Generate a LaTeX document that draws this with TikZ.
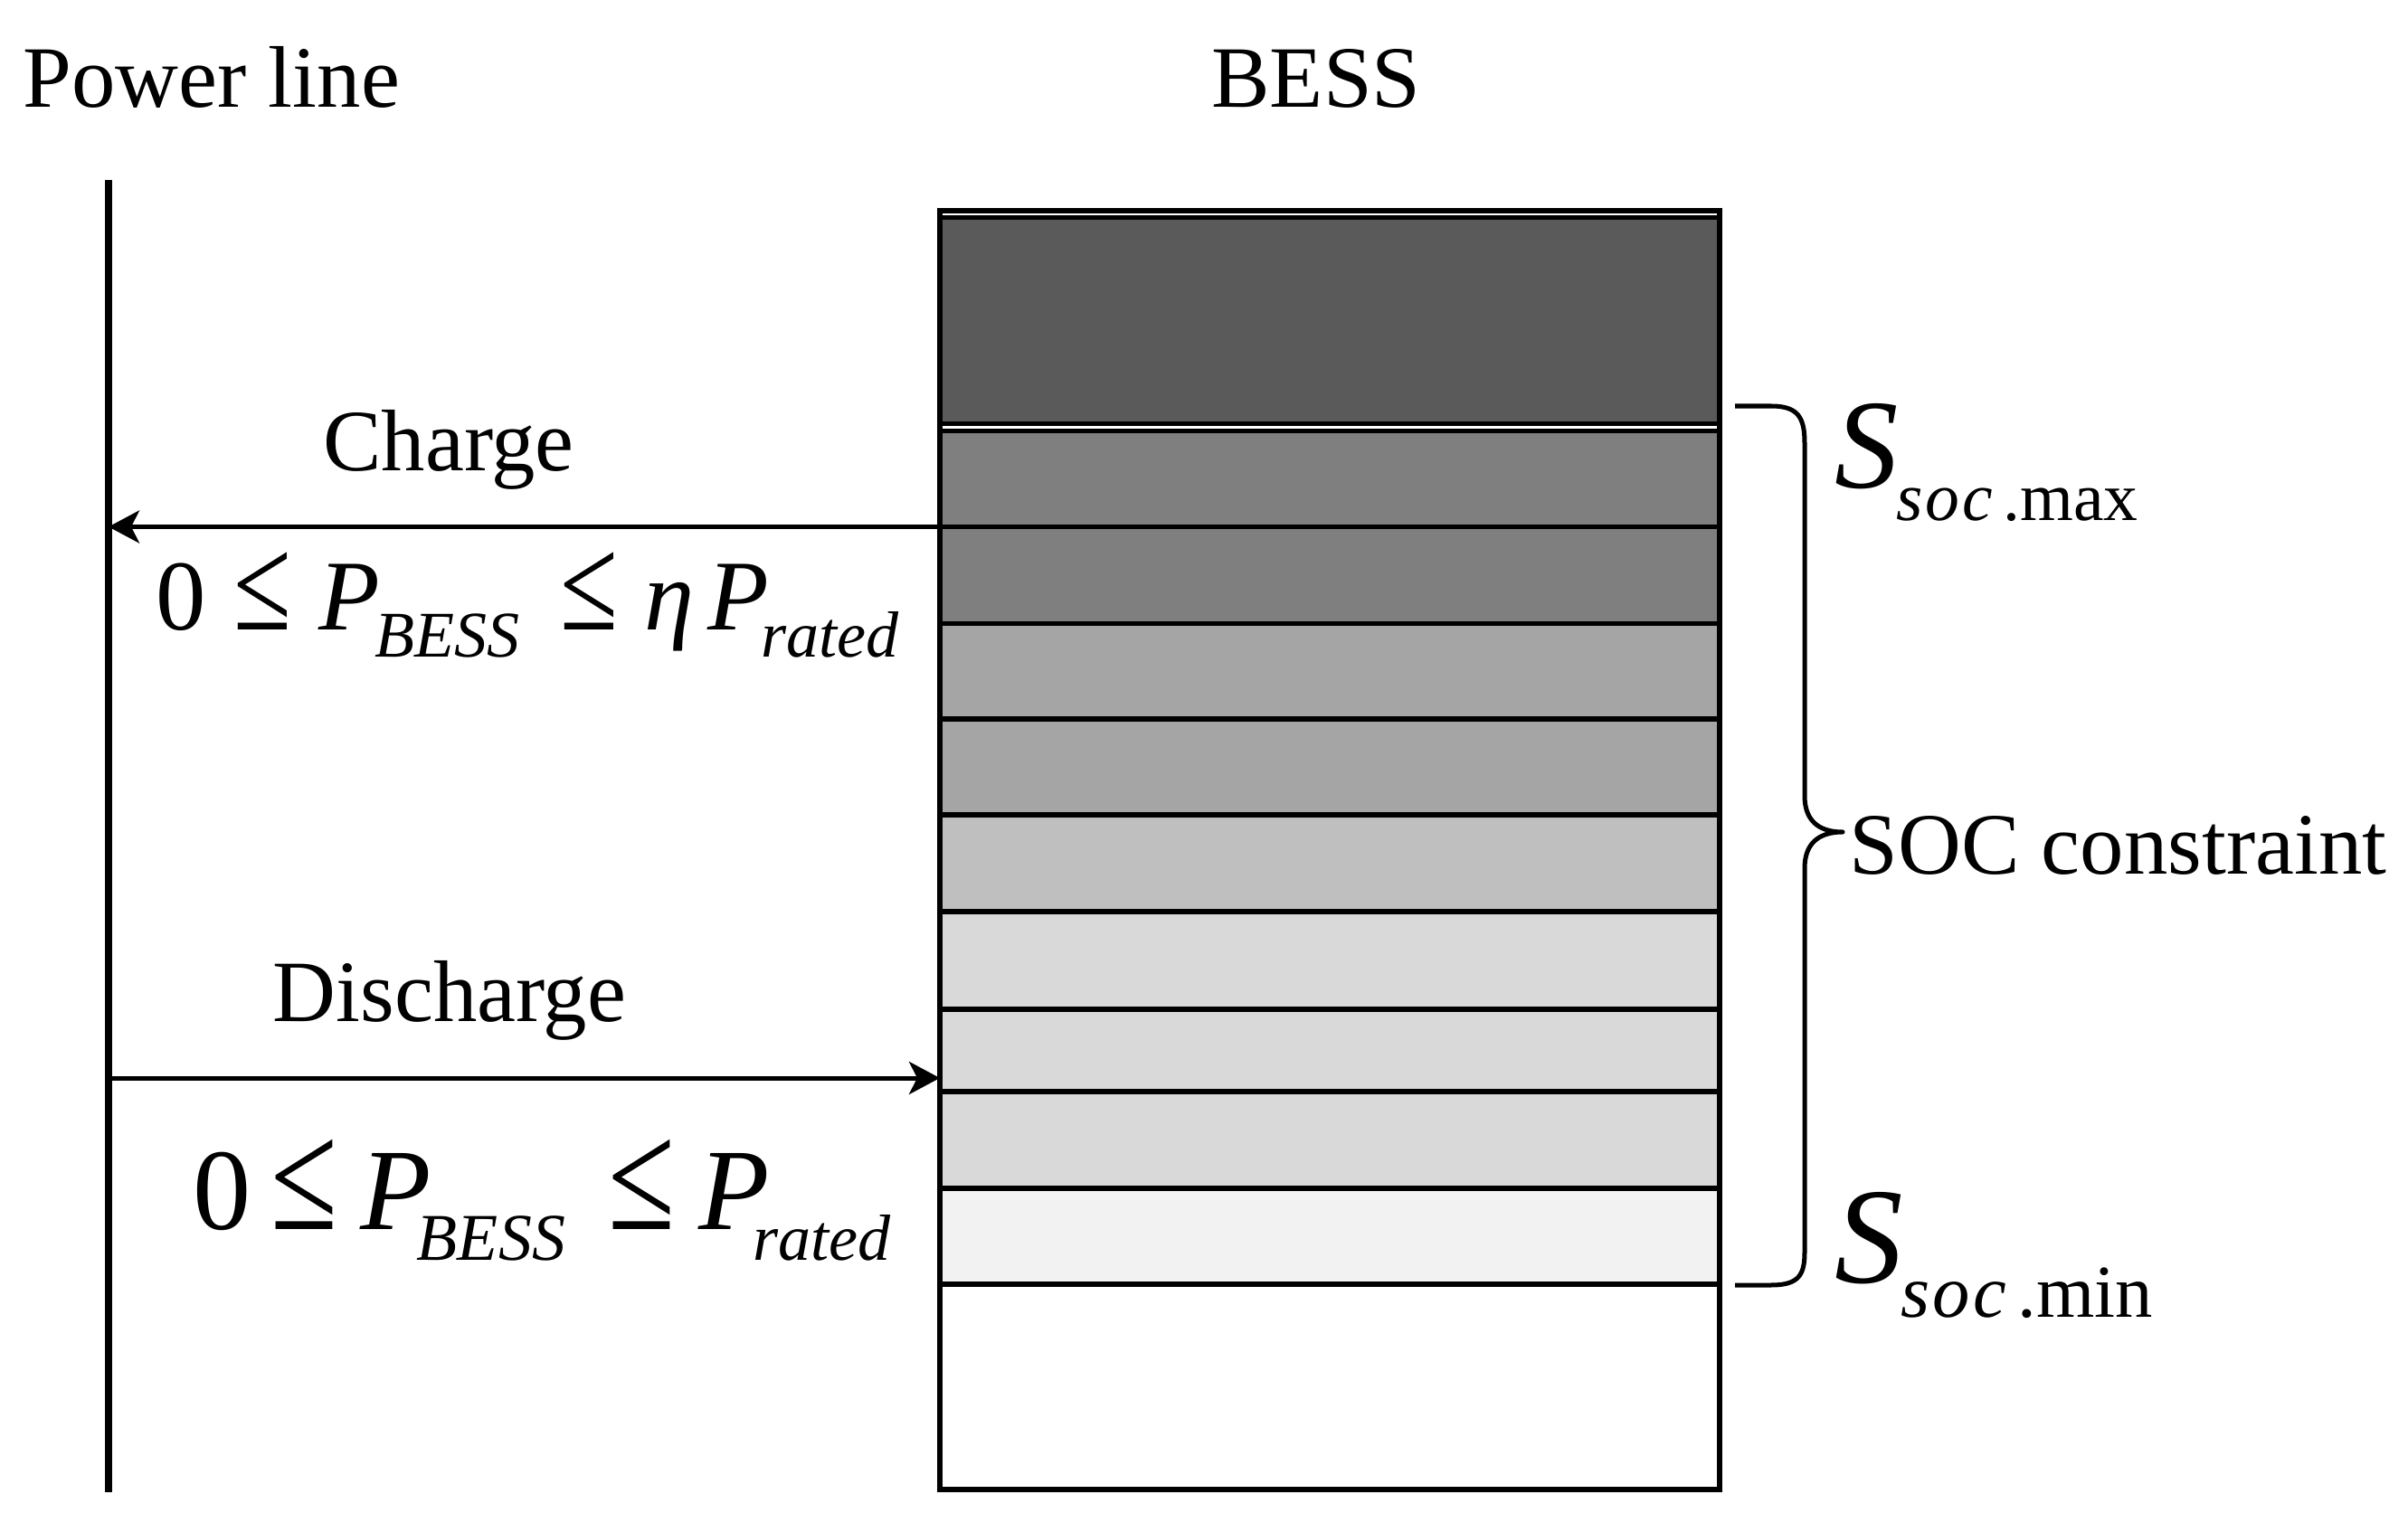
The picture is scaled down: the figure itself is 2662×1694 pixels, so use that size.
\documentclass[tikz,border=0pt]{standalone}
\usepackage{fontspec}
\usepackage{graphicx}
\setmainfont{Liberation Serif}
\usetikzlibrary{arrows.meta}
\definecolor{cA}{HTML}{5A5A5A}
\definecolor{cB}{HTML}{7F7F7F}
\definecolor{cC}{HTML}{A5A5A5}
\definecolor{cD}{HTML}{BFBFBF}
\definecolor{cE}{HTML}{D9D9D9}
\definecolor{cF}{HTML}{F2F2F2}
\newcommand{\gbox}[2]{\makebox[#1][l]{#2}}
\newcommand{\leqbig}{\scalebox{1.05}[1.35]{≤}}
\begin{document}
\begin{tikzpicture}[x=0.01cm,y=-0.01cm,
  lbl/.style={inner sep=0pt, font=\fontsize{27.5}{33}\selectfont},
  cellbox/.style={draw=black, line width=0.055cm},
  flow/.style={line width=0.05cm, -{Stealth[length=0.34cm,width=0.36cm,inset=0.09cm]}},
  bracepath/.style={line width=0.05cm, line join=round}]
\useasboundingbox (0,0) rectangle (2662,1694);
% titles
\node[lbl, anchor=base west] (tpl) at (25,119) {Power line};
\node[lbl, anchor=base] (tbess) at (1455,119) {BESS};
% power line
\coordinate (plt) at (120,199);
\coordinate (plb) at (120,1650);
\draw[line width=0.072cm] (plt) -- (plb);
% battery
\draw[cellbox, fill=white] (1039,233) rectangle (1901,1647);
\draw[cellbox, fill=cA] (1039,240.5) rectangle (1901,468.5);
\draw[cellbox, fill=cB] (1039,476.5) rectangle (1901,582.5);
\draw[cellbox, fill=cB] (1039,582.5) rectangle (1901,689.5);
\draw[cellbox, fill=cC] (1039,689.5) rectangle (1901,795);
\draw[cellbox, fill=cC] (1039,795) rectangle (1901,901);
\draw[cellbox, fill=cD] (1039,901) rectangle (1901,1008);
\draw[cellbox, fill=cE] (1039,1008) rectangle (1901,1116);
\draw[cellbox, fill=cE] (1039,1116) rectangle (1901,1207);
\draw[cellbox, fill=cE] (1039,1207) rectangle (1901,1314);
\draw[cellbox, fill=cF] (1039,1314) rectangle (1901,1420);
% arrows
\coordinate (chB) at (1039,582.5);
\coordinate (chP) at (120,582.5);
\coordinate (dcP) at (120,1192);
\coordinate (dcB) at (1039,1192);
\draw[flow] (chB) -- (chP);
\draw[flow] (dcP) -- (dcB);
% labels
\node[lbl, anchor=base] (tch) at (496,521) {Charge};
\node[lbl, anchor=base] (tdc) at (497,1129) {Discharge};
\node[inner sep=0pt, anchor=base west, font=\fontsize{31.5}{36}\selectfont] (fch) at (172,696)
 {\gbox{8.6mm}{0}\gbox{9.4mm}{\leqbig}\gbox{6.2mm}{\textit{P}}\gbox{20.5mm}{\raisebox{-8.8pt}{\fontsize{20.5}{21}\selectfont\textit{BESS}}}\gbox{9.2mm}{\leqbig}\gbox{7.0mm}{\textit{η}}\gbox{5.9mm}{\textit{P}}\raisebox{-8.8pt}{\fontsize{20.5}{21}\selectfont\textit{rated}}};
\node[inner sep=0pt, anchor=base west, font=\fontsize{36.5}{42}\selectfont] (fdc) at (213,1359)
 {\gbox{8.6mm}{0}\gbox{9.9mm}{\leqbig}\gbox{6.2mm}{\textit{P}}\gbox{21.2mm}{\raisebox{-9.7pt}{\fontsize{21}{22}\selectfont\textit{BESS}}}\gbox{9.9mm}{\leqbig}\gbox{6.0mm}{\textit{P}}\raisebox{-9.7pt}{\fontsize{20.5}{22}\selectfont\textit{rated}}};
% brace
\coordinate (brT) at (1918,449);
\coordinate (brB) at (1918,1421);
\coordinate (brTip) at (2037,920);
\draw[bracepath] (brT) -- (1958,449) .. controls (1988,449) and (1995,462) .. (1995,490)
  -- (1995,880) .. controls (1995,905) and (2008,920) .. (brTip)
  .. controls (2008,920) and (1995,935) .. (1995,960)
  -- (1995,1385) .. controls (1995,1410) and (1988,1421) .. (1958,1421) -- (brB);
\node[lbl, anchor=base west] (tsoc) at (2044,966) {SOC constraint};
\node[inner sep=0pt, anchor=base west, font=\fontsize{40}{44}\selectfont] (smax) at (2028,540)
 {\textit{S}\kern-0.02em\raisebox{-10.2pt}{\fontsize{21.5}{22}\selectfont\textit{s\kern0.04em o\kern0.04em c}\kern0.15em.max}};
\node[inner sep=0pt, anchor=base west, font=\fontsize{43}{46}\selectfont] (smin) at (2028,1418)
 {\textit{S}\kern-0.02em\raisebox{-11pt}{\fontsize{23.5}{24}\selectfont\textit{s\kern0.04em o\kern0.04em c}\kern0.15em.min}};
\end{tikzpicture}
\end{document}
